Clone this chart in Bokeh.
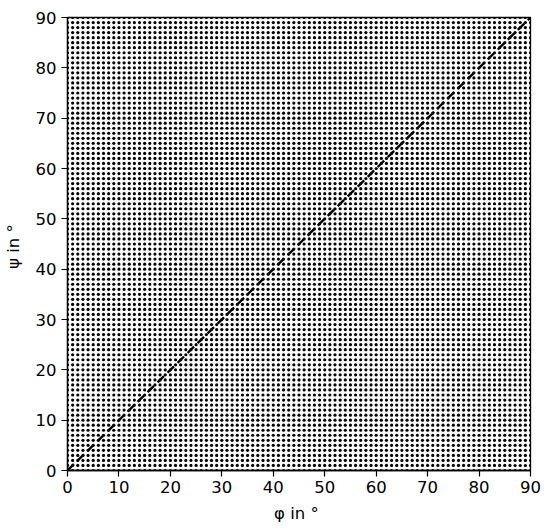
import numpy as np
from bokeh.plotting import figure
from bokeh.models import Range1d, FixedTicker, ColumnDataSource
from bokeh.embed import file_html
from bokeh.resources import INLINE

# grid of sampled angle pairs (degrees)
phi_samples = list(range(0, 91))
psi_samples = list(range(0, 91))
diag_phi = [0, 90]
diag_psi = [0, 90]
ticks = [0, 10, 20, 30, 40, 50, 60, 70, 80, 90]

PHI, PSI = np.meshgrid(phi_samples, psi_samples)
src = ColumnDataSource(dict(x=PHI.ravel(), y=PSI.ravel()))

p = figure(width=545, height=525, output_backend="svg", toolbar_location=None,
           x_range=Range1d(0, 90), y_range=Range1d(0, 90),
           min_border_left=66, min_border_right=15, min_border_top=17, min_border_bottom=55)
p.xgrid.visible = False
p.ygrid.visible = False
p.outline_line_color = "black"
p.outline_line_width = 1.3
p.background_fill_color = "white"

p.scatter("x", "y", source=src, size=3.2, color="black", line_width=0)
p.line(diag_phi, diag_psi, line_color="black", line_width=2.4, line_dash="9 5")

for ax in (p.xaxis[0], p.yaxis[0]):
    ax.ticker = FixedTicker(ticks=ticks)
    ax.major_label_text_font = "DejaVu Sans"
    ax.major_label_text_font_size = "16.5px"
    ax.major_label_text_color = "black"
    ax.axis_label_text_font = "DejaVu Sans"
    ax.axis_label_text_font_size = "16.5px"
    ax.axis_label_text_font_style = "normal"
    ax.axis_label_text_color = "black"
    ax.major_tick_in = 0
    ax.major_tick_out = 6
    ax.major_tick_line_width = 1.2
    ax.minor_tick_out = 0
    ax.minor_tick_in = 0
    ax.axis_line_color = "black"
    ax.axis_line_width = 1.3
    ax.major_tick_line_color = "black"

p.xaxis.axis_label = "φ in  °"
p.yaxis.axis_label = "ψ in  °"
p.xaxis.major_label_standoff = 4
p.yaxis.major_label_standoff = 5
p.xaxis.axis_label_standoff = 8
p.yaxis.axis_label_standoff = 10

open("out.html", "w").write(file_html(p, INLINE))
